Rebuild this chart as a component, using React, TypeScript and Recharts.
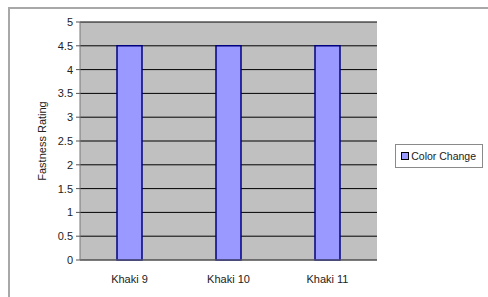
import React from 'react';
import { BarChart, Bar, XAxis, YAxis, CartesianGrid, Legend } from 'recharts';

const categories = ['Khaki 9', 'Khaki 10', 'Khaki 11'];
const colorChange = [4.5, 4.5, 4.5];
const yTicks = [0, 0.5, 1, 1.5, 2, 2.5, 3, 3.5, 4, 4.5, 5];

const data = categories.map((name, i) => ({ name, colorChange: colorChange[i] }));

const font = 'Liberation Sans, Arial, sans-serif';

const LegendBox = () => (
  <div
    style={{
      border: '1px solid #8a8a8a',
      padding: '5px 6px 5px 5px',
      display: 'inline-flex',
      alignItems: 'center',
      fontFamily: font,
      fontSize: 10.5,
      color: '#222',
      background: '#fff',
      whiteSpace: 'nowrap',
    }}
  >
    <span
      style={{
        width: 6,
        height: 6,
        background: '#9999ff',
        border: '1px solid #000',
        marginRight: 2,
        display: 'inline-block',
      }}
    />
    Color Change
  </div>
);

export default function App() {
  return (
    <div style={{ position: 'absolute', left: 0, top: 0, width: 488, height: 297, background: '#fff', overflow: 'hidden' }}>
      <div
        style={{
          position: 'absolute',
          left: 8,
          top: 7,
          width: 490,
          height: 300,
          borderTop: '2px solid #a8a8a8',
          borderLeft: '2px solid #a8a8a8',
        }}
      />
      <div style={{ position: 'absolute', left: 0, top: 0 }}>
        <BarChart
          width={488}
          height={297}
          data={data}
          margin={{ top: 22, right: 111, bottom: 0, left: 0 }}
        >
          <CartesianGrid
            vertical={false}
            stroke="#000"
            strokeWidth={1}
            fill="#c0c0c0"
            fillOpacity={1}
          />
          <XAxis
            dataKey="name"
            height={37}
            tickLine={false}
            tickMargin={9}
            axisLine={{ stroke: '#777' }}
            tick={{ fontFamily: font, fontSize: 11, fill: '#222' }}
          />
          <YAxis
            width={80}
            domain={[0, 5]}
            ticks={yTicks}
            interval={0}
            tickSize={4}
            tickMargin={3}
            tickLine={{ stroke: '#555' }}
            axisLine={{ stroke: '#777' }}
            tick={{ fontFamily: font, fontSize: 11, fill: '#222' }}
            label={{
              value: 'Fastness Rating',
              angle: -90,
              position: 'center',
              dx: 2,
              style: { fontFamily: font, fontSize: 11, fill: '#222' },
            }}
          />
          <Legend
            layout="horizontal"
            align="center"
            verticalAlign="middle"
            content={() => <LegendBox />}
            wrapperStyle={{ right: 5, left: 'auto', top: 144, width: 'auto' }}
          />
          <Bar
            dataKey="colorChange"
            name="Color Change"
            fill="#9999ff"
            stroke="#000080"
            strokeWidth={1.5}
            barSize={25}
            isAnimationActive={false}
          />
        </BarChart>
      </div>
    </div>
  );
}
